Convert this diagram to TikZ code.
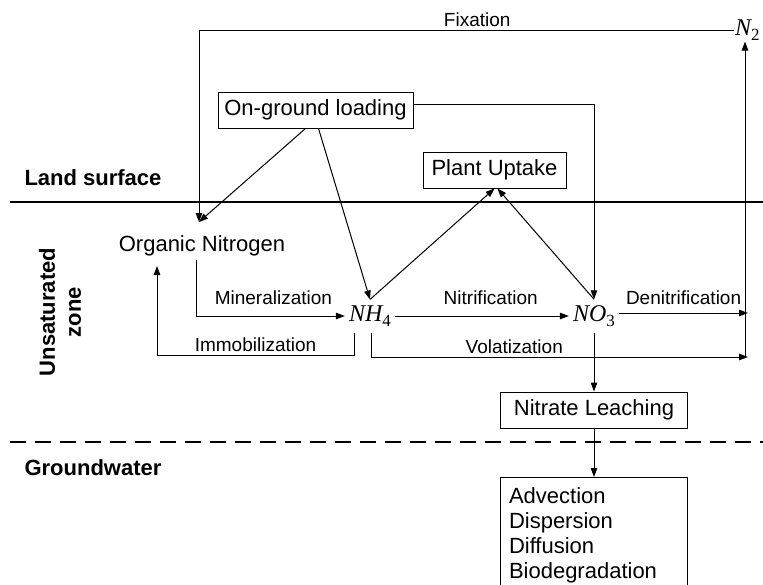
\documentclass[tikz,border=0pt]{standalone}
\usepackage{fontspec}
\setmainfont{Liberation Sans}
\newfontfamily\chemfont{Liberation Serif}
\usetikzlibrary{positioning, arrows.meta, calc}

% species name in italic serif with an upright subscript
\newcommand{\chem}[2]{{\chemfont\fontsize{24}{26}\selectfont\itshape #1\raisebox{-5pt}{\fontsize{17}{17}\selectfont\upshape #2}}}

\begin{document}
\begin{tikzpicture}[
      x=1pt, y=-1pt,
      every node/.style={font=\fontsize{22}{25}\selectfont},
      procbox/.style={draw, line width=1pt, minimum height=36pt, inner xsep=6pt},
      species/.style={inner xsep=4pt, inner ysep=6pt},
      flowlabel/.style={font=\fontsize{19}{22}\selectfont},
      zonelabel/.style={font=\fontsize{22}{26}\selectfont\bfseries},
      flow/.style={->, line width=1pt},
      >={Triangle[length=9pt,width=6.5pt]},
    ]
    \clip (0,0) rectangle (763,584);

    % soil layers
    \draw[line width=1.5pt] (10,202) -- (763,202);
    \draw[line width=2pt, dash pattern=on 16pt off 9pt] (10,442) -- (763,442);
    \node[zonelabel, anchor=west] (land) at (21,178) {Land surface};
    \node[zonelabel, anchor=west] (gw) at (21,468) {Groundwater};
    \node[zonelabel, rotate=90, align=center] (unsat) at (60,312) {Unsaturated\\zone};

    % boxes and species
    \node[procbox, minimum width=195pt] (onground) at (315.5,110) {On-ground loading};
    \node[procbox, minimum width=143pt] (plant) at (494.5,170) {Plant Uptake};
    \node[procbox, minimum width=187pt] (leach) at (594,410) {Nitrate Leaching};
    \node[procbox, minimum width=187pt, anchor=north, align=left,
          text width=170pt, inner ysep=10pt]
      (transport) at (594,477)
      {Advection\\Dispersion\\Diffusion\\Biodegradation\\[30pt]};
    \node (orgN) at (202,246) {Organic Nitrogen};
    \node[species] (nh4) at (370,316) {\chem{NH}{4}};
    \node[species] (no3) at (594,316) {\chem{NO}{3}};
    \node[inner sep=1pt, anchor=west] (n2) at (734,30) {\chem{N}{2}};

    \coordinate (orgtop) at (199,222);
    \coordinate (immtop) at (157,266);
    \coordinate (imm) at (157,355);
    \coordinate (den) at (748,313);
    \coordinate (vol) at (748,357);
    \coordinate (n2base) at (745,357);

    % connectors
    \draw[flow] (n2.west) -| (orgtop)
      node[flowlabel, pos=0.24, above=-1pt] {Fixation};
    \draw[flow] ([xshift=-10pt]onground.south) -- (orgtop);
    \draw[flow] ([xshift=3pt]onground.south) -- (nh4.north);
    \draw[flow] ([yshift=6pt]onground.east) -| (no3.north);
    \draw[flow] (nh4.north) -- (plant.south);
    \draw[flow] (no3.north) -- ([xshift=3pt]plant.south);
    \draw[flow] ([xshift=-6pt]orgN.south) |- (nh4.west)
      node[flowlabel, pos=0.76, above=7pt] {Mineralization};
    \draw[flow] (nh4) -- (no3)
      node[flowlabel, pos=0.55, above=7pt] {Nitrification};
    \draw[flow] (no3.east |- den) -- (den)
      node[flowlabel, midway, above=4pt] {Denitrification};
    \draw[flow] ([xshift=-16pt]nh4.south) |- (imm)
      node[flowlabel, pos=0.75, above=-1pt] {Immobilization} -- (immtop);
    \draw[flow] ([xshift=1pt]nh4.south) |- (vol)
      node[flowlabel, pos=0.69, above=-1pt] {Volatization};
    \draw[flow] (n2base) -- (n2.south -| n2base);
    \draw[flow] (no3.south) -- (leach.north);
    \draw[flow] (leach.south) -- (transport.north);
\end{tikzpicture}
\end{document}
